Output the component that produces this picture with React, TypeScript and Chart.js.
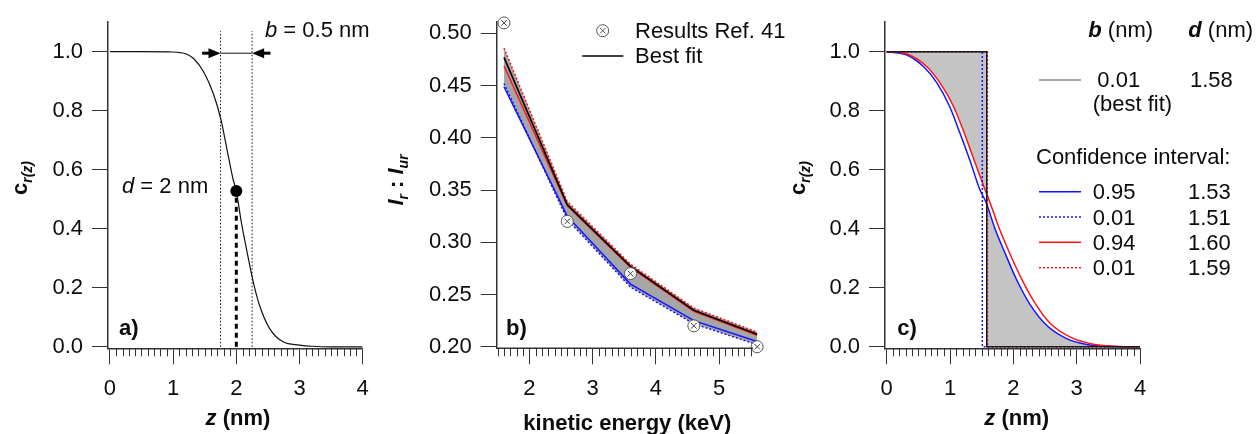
import React, { useEffect, useRef } from 'react';
import { Chart, registerables } from 'chart.js';

Chart.register(...registerables);

const FONT = '"Liberation Sans", Arial, Helvetica, sans-serif';
const INK = '#0c0c0c';
const AXIS = '#333333';
const H = 434;
const FS = 22;
const BLUE = '#1414ff';
const RED = '#ff1414';

// ---------------- Panel a : model profile (b = 0.5 nm, d = 2 nm)
const zA = [0, 0.5, 1.0, 1.11, 1.2, 1.32, 1.48, 1.64, 1.76, 1.85, 1.95, 2.0, 2.08, 2.17, 2.26, 2.37, 2.53, 2.74, 3.0, 3.2, 3.5, 4.0];
const cA = [1.0, 1.0, 0.999, 0.997, 0.993, 0.978, 0.933, 0.856, 0.767, 0.672, 0.567, 0.528, 0.422, 0.322, 0.228, 0.139, 0.061, 0.017, 0.006, 0.002, 0.0, 0.0];
const dA = 2.0;
const cAtDA = 0.528;
const bEdgesA = [1.75, 2.25];
const guideTopA = 1.07;
const arrowLevelA = 0.995;
const arrowTailsA = [1.46, 2.54];
const xMajorA = [0, 1, 2, 3, 4];
const yMajorA = [0, 0.2, 0.4, 0.6, 0.8, 1.0];

// ---------------- Panel b : intensity ratio vs kinetic energy
const energy = [1.6, 2.6, 3.6, 4.6, 5.6];
const ref41 = [0.51, 0.32, 0.27, 0.22, 0.2];
const bestFitB = [0.477, 0.336, 0.277, 0.235, 0.212];
const redSolidB = [0.469, 0.335, 0.276, 0.234, 0.211];
const redDotB = [0.486, 0.339, 0.279, 0.237, 0.214];
const blueSolidB = [0.449, 0.325, 0.26, 0.225, 0.205];
const blueDotB = [0.452, 0.322, 0.257, 0.222, 0.202];
const xMajorB = [2, 3, 4, 5];
const yMajorB = [0.2, 0.25, 0.3, 0.35, 0.4, 0.45, 0.5];

// ---------------- Panel c : fitted profiles
const zBlue = [0, 0.32, 0.58, 0.79, 1.0, 1.16, 1.32, 1.47, 1.57, 1.71, 1.87, 2.05, 2.26, 2.53, 2.84, 3.16, 3.58, 4.0];
const cBlue = [1.0, 0.989, 0.95, 0.895, 0.811, 0.722, 0.628, 0.533, 0.489, 0.4, 0.317, 0.228, 0.145, 0.072, 0.028, 0.008, 0.001, 0.0];
const zRed = [0, 0.32, 0.63, 0.84, 1.05, 1.21, 1.37, 1.53, 1.63, 1.76, 1.92, 2.11, 2.32, 2.58, 2.9, 3.26, 3.6, 4.0];
const cRed = [1.0, 0.992, 0.95, 0.895, 0.817, 0.733, 0.639, 0.545, 0.49, 0.411, 0.328, 0.239, 0.156, 0.08, 0.033, 0.009, 0.002, 0.0];
const dBest = 1.58;
const dBlueDot = 1.51;
const dRedDot = 1.59;
const stepLevels = [1, 1, 0, 0];
const legendB = ['0.95', '0.01', '0.94', '0.01'];
const legendD = ['1.53', '1.51', '1.60', '1.59'];
const xMajorC = [0, 1, 2, 3, 4];
const yMajorC = [0, 0.2, 0.4, 0.6, 0.8, 1.0];

// ---------------- helpers
const pts = (xs: number[], ys: number[]) => xs.map((x, i) => ({ x, y: ys[i] }));
const stepPts = (d: number) => pts([0, d, d, 4], stepLevels);
const F = (style: string, size = FS) => `${style ? style + ' ' : ''}${size}px ${FONT}`;

function minorTicks(from: number, to: number, step: number, majors: number[]) {
  const out: number[] = [];
  const n = Math.round((to - from) / step);
  for (let i = 0; i <= n; i++) {
    const v = Math.round((from + i * step) * 1000) / 1000;
    if (!majors.some((m) => Math.abs(m - v) < 1e-6)) out.push(v);
  }
  return out;
}

type Run = { t: string; f: string; dy?: number };
function runsWidth(ctx: CanvasRenderingContext2D, runs: Run[]) {
  let w = 0;
  for (const r of runs) {
    ctx.font = r.f;
    w += ctx.measureText(r.t).width;
  }
  return w;
}
function drawRuns(ctx: CanvasRenderingContext2D, x: number, y: number, runs: Run[], center = false) {
  let cx = center ? x - runsWidth(ctx, runs) / 2 : x;
  ctx.textAlign = 'left';
  ctx.textBaseline = 'alphabetic';
  ctx.fillStyle = INK;
  for (const r of runs) {
    ctx.font = r.f;
    ctx.fillText(r.t, cx, y + (r.dy || 0));
    cx += ctx.measureText(r.t).width;
  }
}
function drawRotRuns(ctx: CanvasRenderingContext2D, bx: number, cy: number, runs: Run[]) {
  ctx.save();
  ctx.translate(bx, cy);
  ctx.rotate(-Math.PI / 2);
  drawRuns(ctx, 0, 0, runs, true);
  ctx.restore();
}
function drawMinorX(chart: any, values: number[], len = 8) {
  const { ctx, chartArea } = chart;
  const xs = chart.scales.x;
  ctx.save();
  ctx.strokeStyle = AXIS;
  ctx.lineWidth = 1;
  ctx.beginPath();
  for (const v of values) {
    const px = Math.round(xs.getPixelForValue(v)) + 0.5;
    ctx.moveTo(px, chartArea.bottom);
    ctx.lineTo(px, chartArea.bottom + len);
  }
  ctx.stroke();
  ctx.restore();
}
function legendLine(ctx: CanvasRenderingContext2D, x1: number, x2: number, y: number, color: string, dash: number[] = [], width = 1.5) {
  ctx.save();
  ctx.strokeStyle = color;
  ctx.lineWidth = width;
  ctx.setLineDash(dash);
  ctx.beginPath();
  ctx.moveTo(x1, y);
  ctx.lineTo(x2, y);
  ctx.stroke();
  ctx.restore();
}
function drawArrow(ctx: CanvasRenderingContext2D, xTail: number, xTip: number, y: number) {
  const dir = Math.sign(xTip - xTail);
  const head = 12;
  ctx.save();
  ctx.strokeStyle = '#000';
  ctx.fillStyle = '#000';
  ctx.lineWidth = 3;
  ctx.beginPath();
  ctx.moveTo(xTail, y);
  ctx.lineTo(xTip - dir * head * 0.8, y);
  ctx.stroke();
  ctx.beginPath();
  ctx.moveTo(xTip, y);
  ctx.lineTo(xTip - dir * head, y - 5);
  ctx.lineTo(xTip - dir * head, y + 5);
  ctx.closePath();
  ctx.fill();
  ctx.restore();
}

type Spec = {
  left: number;
  width: number;
  area: { l: number; r: number; t: number; b: number };
  xMin: number; xMax: number; yMin: number; yMax: number;
  xMajor: number[]; yMajor: number[];
  xFmt: (v: number) => string; yFmt: (v: number) => string;
  xBorder?: boolean;
  datasets: any[];
  draw: (chart: any) => void;
};

const lineDs = (data: any[], color: string, width: number, extra: any = {}) => ({
  data, borderColor: color, borderWidth: width, pointRadius: 0, fill: false, ...extra,
});

// ---------------- spec a
const minorA = minorTicks(0, 4, 0.1, xMajorA);
const specA: Spec = {
  left: 0, width: 380,
  area: { l: 108, r: 362.7, t: 16, b: 348.3 },
  xMin: -0.03, xMax: 4, yMin: -0.005, yMax: 1.1,
  xMajor: xMajorA, yMajor: yMajorA,
  xFmt: (v) => String(v), yFmt: (v) => Number(v).toFixed(1),
  datasets: [
    { data: [{ x: dA, y: cAtDA }], showLine: false, pointRadius: 6, pointBackgroundColor: '#000', pointBorderColor: '#000', pointBorderWidth: 0 },
    lineDs(pts(zA, cA), '#111', 1.2, { cubicInterpolationMode: 'monotone' }),
    lineDs([{ x: dA, y: 0 }, { x: dA, y: cAtDA }], '#000', 3, { borderDash: [5, 4] }),
    lineDs([{ x: bEdgesA[0], y: 0 }, { x: bEdgesA[0], y: guideTopA }], '#111', 1, { borderDash: [1.5, 2] }),
    lineDs([{ x: bEdgesA[1], y: 0 }, { x: bEdgesA[1], y: guideTopA }], '#111', 1, { borderDash: [1.5, 2] }),
    lineDs([{ x: bEdgesA[0], y: arrowLevelA }, { x: bEdgesA[1], y: arrowLevelA }], '#111', 1),
  ],
  draw: (chart) => {
    const { ctx } = chart;
    const xs = chart.scales.x;
    const ys = chart.scales.y;
    drawMinorX(chart, minorA);
    const ay = ys.getPixelForValue(arrowLevelA);
    drawArrow(ctx, xs.getPixelForValue(arrowTailsA[0]), xs.getPixelForValue(bEdgesA[0]), ay);
    drawArrow(ctx, xs.getPixelForValue(arrowTailsA[1]), xs.getPixelForValue(bEdgesA[1]), ay);
    drawRuns(ctx, 265, 36.7, [{ t: 'b', f: F('italic') }, { t: ' = 0.5 nm', f: F('') }]);
    drawRuns(ctx, 122, 192.7, [{ t: 'd', f: F('italic') }, { t: ' = 2 nm', f: F('') }]);
    drawRuns(ctx, 119, 335, [{ t: 'a)', f: F('bold') }]);
    drawRuns(ctx, 238, 425, [{ t: 'z', f: F('italic bold') }, { t: ' (nm)', f: F('bold') }], true);
    drawRotRuns(ctx, 26.7, 178, [{ t: 'c', f: F('bold') }, { t: 'r(z)', f: F('italic bold', 14), dy: 5 }]);
  },
};

// ---------------- spec b
const minorB = minorTicks(1.5, 5.5, 0.1, xMajorB);
const axisEndB = 5.535;
const specB: Spec = {
  left: 380, width: 420,
  area: { l: 116.7, r: 378.4, t: 18, b: 348.3 },
  xMin: 1.485, xMax: 5.62, yMin: 0.1985, yMax: 0.5107,
  xMajor: xMajorB, yMajor: yMajorB,
  xFmt: (v) => String(v), yFmt: (v) => Number(v).toFixed(2),
  xBorder: false,
  datasets: [
    { data: pts(energy, ref41), showLine: false, pointStyle: 'crossRot', pointRadius: 4, pointBorderColor: '#444', pointBorderWidth: 1, clip: false },
    { data: pts(energy, ref41), showLine: false, pointStyle: 'circle', pointRadius: 6, pointBackgroundColor: '#fff', pointBorderColor: '#555', pointBorderWidth: 1, clip: false },
    lineDs(pts(energy, bestFitB), '#000', 1.6),
    lineDs(pts(energy, redSolidB), RED, 1.5),
    lineDs(pts(energy, blueSolidB), BLUE, 1.5),
    lineDs(pts(energy, redDotB), RED, 1.5, { borderDash: [2, 2], fill: { target: 6 }, backgroundColor: '#a6a6a6' }),
    lineDs(pts(energy, blueDotB), BLUE, 1.5, { borderDash: [2, 2] }),
  ],
  draw: (chart) => {
    const { ctx, chartArea } = chart;
    const xs = chart.scales.x;
    drawMinorX(chart, minorB);
    ctx.save();
    ctx.strokeStyle = AXIS;
    ctx.lineWidth = 1.5;
    ctx.beginPath();
    ctx.moveTo(chartArea.left, chartArea.bottom);
    ctx.lineTo(xs.getPixelForValue(axisEndB), chartArea.bottom);
    ctx.stroke();
    ctx.restore();
    // legend
    const mx = 222.7, my = 30.7;
    ctx.save();
    ctx.fillStyle = '#fff';
    ctx.strokeStyle = '#555';
    ctx.lineWidth = 1;
    ctx.beginPath();
    ctx.arc(mx, my, 6, 0, Math.PI * 2);
    ctx.fill();
    ctx.stroke();
    ctx.beginPath();
    ctx.moveTo(mx - 2.8, my - 2.8); ctx.lineTo(mx + 2.8, my + 2.8);
    ctx.moveTo(mx - 2.8, my + 2.8); ctx.lineTo(mx + 2.8, my - 2.8);
    ctx.stroke();
    ctx.restore();
    drawRuns(ctx, 255, 37.5, [{ t: 'Results Ref. 41', f: F('') }]);
    legendLine(ctx, 202.3, 243.3, 56, '#000', [], 1.6);
    drawRuns(ctx, 255, 63.3, [{ t: 'Best fit', f: F('') }]);
    drawRuns(ctx, 126, 334.5, [{ t: 'b)', f: F('bold') }]);
    drawRuns(ctx, 247.3, 430, [{ t: 'kinetic energy (keV)', f: F('bold') }], true);
    drawRotRuns(ctx, 23, 180, [
      { t: 'I', f: F('italic bold') },
      { t: 'r', f: F('italic bold', 14), dy: 5 },
      { t: ' : ', f: F('bold') },
      { t: 'I', f: F('italic bold') },
      { t: 'ur', f: F('italic bold', 14), dy: 5 },
    ]);
  },
};

// ---------------- spec c
const minorC = minorTicks(0, 4, 0.1, xMajorC);
const GRAY_C = '#c4c4c4';
const CLEAR = 'rgba(0,0,0,0)';
const specC: Spec = {
  left: 780, width: 478,
  area: { l: 105, r: 360, t: 16, b: 348.3 },
  xMin: -0.027, xMax: 4, yMin: -0.005, yMax: 1.1,
  xMajor: xMajorC, yMajor: yMajorC,
  xFmt: (v) => String(v), yFmt: (v) => Number(v).toFixed(1),
  datasets: [
    lineDs(stepPts(dBest), '#1a1a1a', 1.5),
    lineDs(stepPts(dRedDot), RED, 1.5, { borderDash: [2, 2] }),
    lineDs(stepPts(dBlueDot), BLUE, 1.5, { borderDash: [2, 2] }),
    lineDs(pts(zRed, cRed), RED, 1.5, { cubicInterpolationMode: 'monotone' }),
    lineDs(pts(zBlue, cBlue), BLUE, 1.5, { cubicInterpolationMode: 'monotone' }),
    lineDs(stepPts(dBest), CLEAR, 0, { fill: { target: 3, above: GRAY_C, below: CLEAR } }),
    lineDs(stepPts(dBest), CLEAR, 0, { fill: { target: 4, above: CLEAR, below: GRAY_C } }),
  ],
  draw: (chart) => {
    const { ctx } = chart;
    drawMinorX(chart, minorC);
    const nf = F('');
    drawRuns(ctx, 308.3, 36.7, [{ t: 'b', f: F('italic bold') }, { t: ' (nm)', f: nf }]);
    drawRuns(ctx, 408.3, 36.7, [{ t: 'd', f: F('italic bold') }, { t: ' (nm)', f: nf }]);
    legendLine(ctx, 259, 301, 80, '#8a8a8a', [], 1.5);
    drawRuns(ctx, 317.3, 87.3, [{ t: '0.01', f: nf }]);
    drawRuns(ctx, 410, 87.3, [{ t: String(dBest.toFixed(2)), f: nf }]);
    drawRuns(ctx, 312.7, 111, [{ t: '(best fit)', f: nf }]);
    drawRuns(ctx, 256, 164, [{ t: 'Confidence interval:', f: nf }]);
    const rowY = [191.7, 217, 242.3, 267.7];
    const rowStyle: [string, number[]][] = [[BLUE, []], [BLUE, [2, 2]], [RED, []], [RED, [2, 2]]];
    rowY.forEach((y, i) => {
      legendLine(ctx, 259, 301, y, rowStyle[i][0], rowStyle[i][1], 1.5);
      drawRuns(ctx, 312.7, y + 7.6, [{ t: legendB[i], f: nf }]);
      drawRuns(ctx, 408, y + 7.6, [{ t: legendD[i], f: nf }]);
    });
    drawRuns(ctx, 117.3, 334.5, [{ t: 'c)', f: F('bold') }]);
    drawRuns(ctx, 236.7, 425, [{ t: 'z', f: F('italic bold') }, { t: ' (nm)', f: F('bold') }], true);
    drawRotRuns(ctx, 25, 178, [{ t: 'c', f: F('bold') }, { t: 'r(z)', f: F('italic bold', 14), dy: 5 }]);
  },
};

function Panel({ spec }: { spec: Spec }) {
  const ref = useRef<HTMLCanvasElement>(null);
  useEffect(() => {
    const s = spec;
    const tickFont = { family: FONT, size: FS };
    const chart = new Chart(ref.current as HTMLCanvasElement, {
      type: 'line',
      data: { datasets: s.datasets },
      options: {
        responsive: false,
        maintainAspectRatio: false,
        animation: false,
        events: [],
        layout: { padding: { left: 0, top: s.area.t, right: s.width - s.area.r, bottom: 0 } },
        plugins: {
          legend: { display: false },
          tooltip: { enabled: false },
          filler: { drawTime: 'beforeDatasetsDraw' },
        },
        scales: {
          x: {
            type: 'linear',
            position: 'bottom',
            min: s.xMin,
            max: s.xMax,
            afterBuildTicks: (sc: any) => { sc.ticks = s.xMajor.map((v) => ({ value: v })); },
            afterFit: (sc: any) => { sc.height = H - s.area.b; },
            ticks: { font: tickFont, color: INK, padding: 11, maxRotation: 0, minRotation: 0, autoSkip: false, callback: (v: any) => s.xFmt(Number(v)) },
            grid: { drawOnChartArea: false, drawTicks: true, tickLength: 16, color: AXIS, lineWidth: 1 },
            border: { display: s.xBorder !== false, color: AXIS, width: 1.5 },
          },
          y: {
            type: 'linear',
            position: 'left',
            min: s.yMin,
            max: s.yMax,
            afterBuildTicks: (sc: any) => { sc.ticks = s.yMajor.map((v) => ({ value: v })); },
            afterFit: (sc: any) => { sc.width = s.area.l; },
            ticks: { font: tickFont, color: INK, padding: 9, autoSkip: false, callback: (v: any) => s.yFmt(Number(v)) },
            grid: { drawOnChartArea: false, drawTicks: true, tickLength: 16, color: AXIS, lineWidth: 1 },
            border: { color: AXIS, width: 1.5 },
          },
        },
      } as any,
      plugins: [{ id: 'panelExtras', afterDraw: (c: any) => s.draw(c) }],
    });
    return () => chart.destroy();
  }, [spec]);
  return (
    <canvas
      ref={ref}
      width={spec.width}
      height={H}
      style={{ position: 'absolute', left: spec.left, top: 0, width: spec.width, height: H, display: 'block' }}
    />
  );
}

export default function App() {
  return (
    <div style={{ position: 'fixed', left: 0, top: 0, width: 1258, height: H, background: '#fff', overflow: 'hidden' }}>
      <Panel spec={specA} />
      <Panel spec={specB} />
      <Panel spec={specC} />
    </div>
  );
}
